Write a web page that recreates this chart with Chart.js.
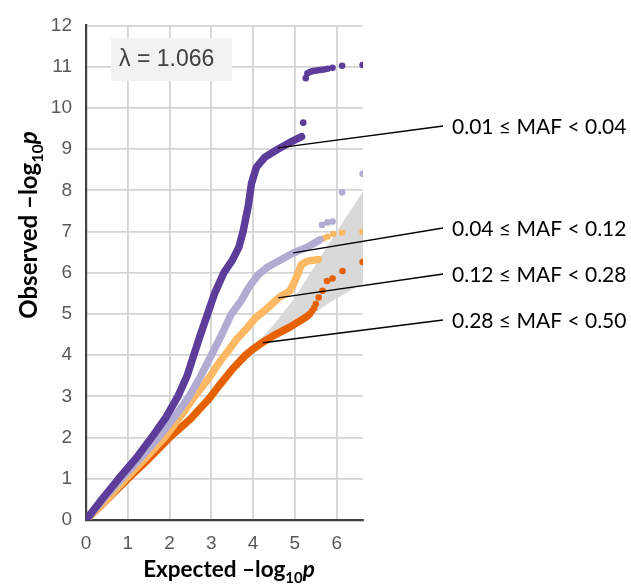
<!DOCTYPE html>
<html>
<head>
<meta charset="utf-8">
<script src="https://cdn.jsdelivr.net/npm/chart.js@4/dist/chart.umd.min.js"></script>
<style>
  html, body { margin: 0; padding: 0; background: #ffffff; }
</style>
</head>
<body>
<canvas id="qqChart" width="631" height="584"></canvas>
<script>
// MAF bins, one per curve
const mafLabels = ['0.01 ≤ MAF < 0.04', '0.04 ≤ MAF < 0.12', '0.12 ≤ MAF < 0.28', '0.28 ≤ MAF < 0.50'];
const mafColors = ['#5e3c99', '#b2abd2', '#fdb863', '#e66101'];
const lambdaGC = 1.066;

// tick labels
const xTicks = [0, 1, 2, 3, 4, 5, 6];
const yTicks = [0, 1, 2, 3, 4, 5, 6, 7, 8, 9, 10, 11, 12];

// [expected, observed] -log10 p, dense part of each curve
const rareDense = [[0, 0], [0.38, 0.5], [0.78, 1.0], [1.2, 1.5], [1.57, 2.0], [1.92, 2.5], [2.2, 3.0],
  [2.42, 3.5], [2.58, 4.0], [2.74, 4.5], [2.91, 5.0], [3.08, 5.5], [3.3, 6.0], [3.5, 6.3], [3.66, 6.62],
  [3.76, 7.0], [3.88, 7.6], [3.96, 8.16], [4.08, 8.56], [4.28, 8.8], [4.6, 9.0], [4.88, 9.16], [5.16, 9.3]];
const lowDense = [[0, 0], [0.45, 0.55], [0.85, 1.0], [1.3, 1.5], [1.73, 2.0], [2.12, 2.5], [2.47, 3.0],
  [2.75, 3.5], [3.0, 4.0], [3.25, 4.5], [3.48, 5.0], [3.7, 5.3], [3.9, 5.65], [4.12, 5.95], [4.32, 6.12],
  [4.6, 6.28], [4.96, 6.48], [5.3, 6.62], [5.6, 6.8]];
const midDense = [[0, 0], [0.5, 0.5], [0.95, 1.0], [1.42, 1.5], [1.88, 2.0], [2.25, 2.5], [2.6, 3.0],
  [2.95, 3.45], [3.2, 3.84], [3.4, 4.1], [3.6, 4.38], [3.84, 4.64], [4.05, 4.9], [4.3, 5.1], [4.62, 5.4],
  [4.88, 5.56], [5.0, 5.8], [5.08, 6.0], [5.16, 6.2], [5.3, 6.28], [5.56, 6.32]];
const commonDense = [[0, 0], [0.5, 0.49], [1.0, 1.0], [1.5, 1.48], [2.0, 2.0], [2.5, 2.45], [2.95, 2.95],
  [3.2, 3.28], [3.52, 3.68], [3.8, 3.98], [4.0, 4.15], [4.24, 4.32], [4.5, 4.48], [4.88, 4.68],
  [5.2, 4.88], [5.3, 4.95]];

// separated points in the tail
const rareTail = [[5.2, 9.64], [5.26, 10.72], [5.3, 10.84], [5.36, 10.87], [5.42, 10.89], [5.48, 10.9],
  [5.55, 10.91], [5.62, 10.92], [5.7, 10.93], [5.78, 10.95], [5.9, 10.97], [6.13, 11.02], [6.62, 11.04]];
const lowTail = [[5.65, 7.16], [5.78, 7.22], [5.9, 7.24], [6.13, 7.95], [6.62, 8.4]];
const midTail = [[5.68, 6.83], [5.78, 6.87], [5.92, 6.94], [6.13, 6.97], [6.62, 6.99]];
const commonTail = [[5.36, 5.0], [5.41, 5.07], [5.46, 5.14], [5.5, 5.24], [5.57, 5.4], [5.66, 5.56],
  [5.77, 5.8], [5.9, 5.86], [6.14, 6.04], [6.62, 6.26]];

// 95% band round the null line
const bandExp = [0, 3, 3.5, 4, 4.5, 5, 5.5, 6, 6.63];
const bandUpper = [0, 3.05, 3.62, 4.18, 4.75, 5.4, 6.2, 7.0, 7.97];
const bandLower = [0, 2.97, 3.55, 4.02, 4.4, 4.68, 5.05, 5.38, 5.74];

// where each label's leader line touches its curve
const labelAnchors = [[4.6, 9.03], [4.96, 6.48], [4.6, 5.39], [4.24, 4.3]];

const toXY = arr => arr.map(([x, y]) => ({ x, y }));

function denseSet(points, color) {
  return {
    type: 'line',
    data: toXY(points),
    borderColor: color,
    borderWidth: 7.5,
    borderCapStyle: 'round',
    borderJoinStyle: 'round',
    pointRadius: 0,
    fill: false,
    tension: 0
  };
}

function tailSet(points, color) {
  return {
    type: 'scatter',
    data: toXY(points),
    backgroundColor: color,
    pointRadius: 3.3,
    pointBorderWidth: 0,
    showLine: false
  };
}

const dense = [rareDense, lowDense, midDense, commonDense];
const tails = [rareTail, lowTail, midTail, commonTail];

const datasets = [];
// first dataset is drawn on top
dense.forEach((d, i) => {
  datasets.push(tailSet(tails[i], mafColors[i]));
  datasets.push(denseSet(d, mafColors[i]));
});
datasets.push({
  type: 'line',
  data: bandExp.map((x, i) => ({ x, y: bandUpper[i] })),
  borderWidth: 0,
  pointRadius: 0,
  backgroundColor: '#d9d9d9',
  fill: '+1'
});
datasets.push({
  type: 'line',
  data: bandExp.map((x, i) => ({ x, y: bandLower[i] })),
  borderWidth: 0,
  pointRadius: 0,
  fill: false
});

function drawLogTitle(ctx, main, size) {
  const fam = 'Lato, "Liberation Sans", sans-serif';
  const big = 'bold ' + size + 'px ' + fam;
  const small = 'bold ' + Math.round(size * 0.65) + 'px ' + fam;
  const ital = 'italic bold ' + size + 'px ' + fam;
  ctx.font = big;
  const w1 = ctx.measureText(main).width;
  ctx.font = small;
  const w2 = ctx.measureText('10').width;
  ctx.font = ital;
  const w3 = ctx.measureText('p').width;
  let x0 = -(w1 + w2 + w3) / 2;
  ctx.textAlign = 'left';
  ctx.textBaseline = 'alphabetic';
  ctx.fillStyle = '#000000';
  ctx.font = big;
  ctx.fillText(main, x0, 0);
  x0 += w1;
  ctx.font = small;
  ctx.fillText('10', x0, size * 0.25);
  x0 += w2;
  ctx.font = ital;
  ctx.fillText('p', x0, 0);
}

const overlay = {
  id: 'overlay',
  afterDatasetsDraw(chart) {
    const { ctx, scales } = chart;
    ctx.save();

    // lambda box
    ctx.fillStyle = '#f2f2f2';
    ctx.fillRect(111, 38, 121, 43);
    ctx.fillStyle = '#404040';
    ctx.font = '23px "Liberation Sans", Arial, sans-serif';
    ctx.textBaseline = 'middle';
    ctx.textAlign = 'left';
    ctx.fillText('λ = ' + lambdaGC.toFixed(3), 119, 60);

    // leader lines and labels
    const labelY = [126, 228, 274, 320];
    ctx.strokeStyle = '#000000';
    ctx.lineWidth = 1.3;
    ctx.font = '21px Lato, "Liberation Sans", sans-serif';
    ctx.fillStyle = '#000000';
    labelAnchors.forEach(([ex, ob], i) => {
      ctx.beginPath();
      ctx.moveTo(scales.x.getPixelForValue(ex), scales.y.getPixelForValue(ob));
      ctx.lineTo(443, labelY[i]);
      ctx.stroke();
      ctx.fillText(mafLabels[i], 452, labelY[i] + 1);
    });

    // axis titles
    ctx.save();
    ctx.translate(229, 577);
    drawLogTitle(ctx, 'Expected –log', 22.5);
    ctx.restore();

    ctx.save();
    ctx.translate(37, 225);
    ctx.rotate(-Math.PI / 2);
    drawLogTitle(ctx, 'Observed –log', 24);
    ctx.restore();

    ctx.restore();
  }
};

const tickFont = { family: '"Liberation Sans", Arial, sans-serif', size: 19 };

new Chart(document.getElementById('qqChart'), {
  type: 'scatter',
  data: { datasets },
  options: {
    responsive: false,
    animation: false,
    layout: { padding: { top: 20, right: 268, left: 0, bottom: 0 } },
    plugins: {
      legend: { display: false },
      tooltip: { enabled: false }
    },
    scales: {
      x: {
        type: 'linear',
        min: 0,
        max: 6.63,
        afterBuildTicks: s => { s.ticks = xTicks.map(v => ({ value: v })); },
        afterFit: s => { s.height = 64; },
        grid: { color: '#d4d4d4', lineWidth: 1.8, drawTicks: false },
        border: { color: '#404040', width: 2.2 },
        ticks: { color: '#595959', font: tickFont, padding: 12, maxRotation: 0 }
      },
      y: {
        type: 'linear',
        min: 0,
        max: 12,
        afterBuildTicks: s => { s.ticks = yTicks.map(v => ({ value: v })); },
        afterFit: s => { s.width = 86; },
        grid: { color: '#d4d4d4', lineWidth: 1.8, drawTicks: false },
        border: { color: '#404040', width: 2.2 },
        ticks: { color: '#595959', font: tickFont, padding: 14 }
      }
    }
  },
  plugins: [overlay]
});
</script>
</body>
</html>
